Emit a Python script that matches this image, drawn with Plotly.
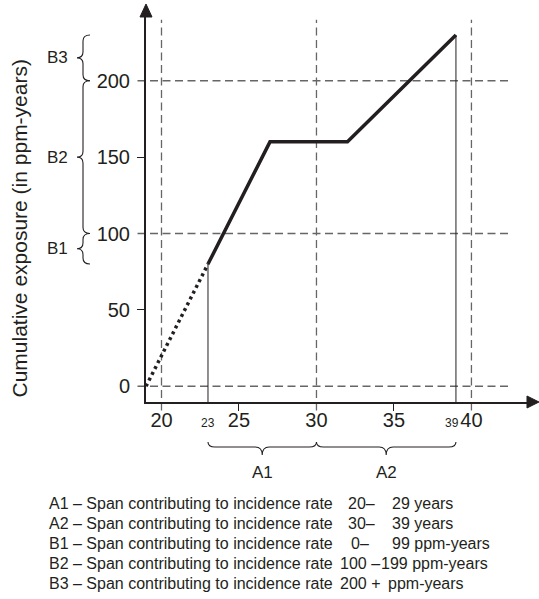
import plotly.graph_objects as go

# ---------------- data ----------------
age_extrapolated = [19, 23]
exposure_extrapolated = [0, 80]
age_observed = [23, 27, 32, 39]
exposure_observed = [80, 160, 160, 230]

x_tick_values = [20, 25, 30, 35, 40]
x_tick_labels = ["20", "25", "30", "35", "40"]
y_tick_values = [0, 50, 100, 150, 200]
y_tick_labels = ["0", "50", "100", "150", "200"]
x_reference_lines = [20, 30, 40]
y_reference_lines = [0, 100, 200]
x_small_labels = [23, 39]

age_span_labels = ["A1", "A2"]
age_span_bounds = [(23, 30), (30, 39)]
exposure_span_labels = ["B1", "B2", "B3"]
exposure_span_bounds = [(80, 100), (100, 200), (200, 230)]

legend_codes = ["A1", "A2", "B1", "B2", "B3"]
legend_lower = ["20\u2013", "30\u2013", "0\u2013", "100 \u2013", "200 +"]
legend_upper = ["29 years", "39 years", "99 ppm-years", "199 ppm-years", "ppm-years"]
legend_phrase = "Span contributing to incidence rate"
y_title = "Cumulative exposure (in ppm-years)"

# ---------------- geometry / style ----------------
W, H = 539, 599
L, R, T, B = 146, 11, 16, 197
PW, PH = W - L - R, H - T - B
X_RANGE = [19, 43.65]
Y_RANGE = [-10.3, 242.4]
INK = "#231f20"
GRID = "#666666"
FONT = "Liberation Sans, Arial, Helvetica, sans-serif"


def px_x(v):
    return L + (v - X_RANGE[0]) / (X_RANGE[1] - X_RANGE[0]) * PW


def px_y(v):
    return T + (Y_RANGE[1] - v) / (Y_RANGE[1] - Y_RANGE[0]) * PH


def paper_x(px):
    return (px - L) / PW


def paper_y(py):
    return (T + PH - py) / PH


def path_from_px(points):
    out = []
    for cmd, pts in points:
        out.append(cmd + " ".join(f"{paper_x(a):.5f},{paper_y(b):.5f}" for a, b in pts))
    return " ".join(out)


fig = go.Figure()

# dotted extrapolation
fig.add_trace(go.Scatter(
    x=age_extrapolated, y=exposure_extrapolated, mode="lines",
    line=dict(color=INK, width=3.5, dash="3px,3.5px"), hoverinfo="skip",
    showlegend=False, cliponaxis=False))
# solid observed line
fig.add_trace(go.Scatter(
    x=age_observed, y=exposure_observed, mode="lines",
    line=dict(color=INK, width=3.5), hoverinfo="skip", showlegend=False))
# thin drop lines at start and end of observation
for xv, yv in [(age_observed[0], exposure_observed[0]), (age_observed[-1], exposure_observed[-1])]:
    fig.add_trace(go.Scatter(
        x=[xv, xv], y=[Y_RANGE[0], yv], mode="lines",
        line=dict(color=INK, width=1), hoverinfo="skip", showlegend=False))

shapes = []
# dashed reference lines
for xv in x_reference_lines:
    shapes.append(dict(type="line", xref="x", yref="paper",
                       x0=xv, x1=xv, y0=paper_y(px_y(Y_RANGE[0]) + 8.5), y1=paper_y(px_y(240)),
                       line=dict(color=GRID, width=1.3, dash="8px,4.5px"), layer="below"))
for yv in y_reference_lines:
    shapes.append(dict(type="line", xref="paper", yref="y",
                       x0=paper_x(px_x(X_RANGE[0]) - 8.5), x1=paper_x(px_x(42.5)), y0=yv, y1=yv,
                       line=dict(color=GRID, width=1.3, dash="8px,4.5px"), layer="below"))

# axis arrowheads
ax_x0, ax_y0 = px_x(X_RANGE[0]), px_y(Y_RANGE[0])
shapes.append(dict(type="path", xref="paper", yref="paper",
                   path=path_from_px([("M", [(ax_x0, T - 12)]), ("L", [(ax_x0 - 6, T + 1)]),
                                      ("L", [(ax_x0 + 6, T + 1)])]) + " Z",
                   fillcolor=INK, line=dict(color=INK, width=1)))
xr = L + PW
shapes.append(dict(type="path", xref="paper", yref="paper",
                   path=path_from_px([("M", [(xr + 11, ax_y0)]), ("L", [(xr - 1, ax_y0 - 6)]),
                                      ("L", [(xr - 1, ax_y0 + 6)])]) + " Z",
                   fillcolor=INK, line=dict(color=INK, width=1)))

# vertical braces (exposure spans)
BR_X, BR_END, BR_TIP, BR_R = 83, 90, 77, 6
for (lo, hi) in exposure_span_bounds:
    yt, yb = px_y(hi), px_y(lo)
    ym = (yt + yb) / 2
    r = min(BR_R, (yb - yt) / 4)
    p = path_from_px([
        ("M", [(BR_END, yt)]),
        ("Q", [(BR_X, yt), (BR_X, yt + r)]),
        ("L", [(BR_X, ym - r)]),
        ("Q", [(BR_X, ym), (BR_TIP, ym)]),
        ("Q", [(BR_X, ym), (BR_X, ym + r)]),
        ("L", [(BR_X, yb - r)]),
        ("Q", [(BR_X, yb), (BR_END, yb)]),
    ])
    shapes.append(dict(type="path", xref="paper", yref="paper", path=p,
                       line=dict(color=INK, width=1.1)))

# horizontal braces (age spans)
HB_END, HB_Y, HB_TIP, HB_R = 442, 447, 455, 7
for (lo, hi) in age_span_bounds:
    xl, xh = px_x(lo), px_x(hi)
    xm = (xl + xh) / 2
    p = path_from_px([
        ("M", [(xl, HB_END)]),
        ("Q", [(xl, HB_Y), (xl + HB_R, HB_Y)]),
        ("L", [(xm - HB_R, HB_Y)]),
        ("Q", [(xm, HB_Y), (xm, HB_TIP)]),
        ("Q", [(xm, HB_Y), (xm + HB_R, HB_Y)]),
        ("L", [(xh - HB_R, HB_Y)]),
        ("Q", [(xh, HB_Y), (xh, HB_END)]),
    ])
    shapes.append(dict(type="path", xref="paper", yref="paper", path=p,
                       line=dict(color=INK, width=1.1)))

annotations = []
# y title
annotations.append(dict(text=y_title, xref="paper", yref="paper",
                        x=paper_x(19), y=paper_y(228.5), textangle=-90,
                        showarrow=False, font=dict(family=FONT, size=21, color=INK),
                        xanchor="center", yanchor="middle"))
# small x labels
for xv in x_small_labels:
    annotations.append(dict(text=str(xv), xref="x", yref="paper", x=xv, y=paper_y(423),
                            xshift=-4 if xv == x_small_labels[-1] else 0,
                            showarrow=False, font=dict(family=FONT, size=12, color=INK),
                            xanchor="center", yanchor="middle"))
# brace labels
for lab, (lo, hi) in zip(exposure_span_labels, exposure_span_bounds):
    annotations.append(dict(text=lab, xref="paper", yref="y", x=paper_x(BR_TIP - 7),
                            y=(lo + hi) / 2, showarrow=False,
                            font=dict(family=FONT, size=17, color=INK),
                            xanchor="right", yanchor="middle"))
for lab, (lo, hi) in zip(age_span_labels, age_span_bounds):
    annotations.append(dict(text=lab, xref="x", yref="paper", x=(lo + hi) / 2,
                            y=paper_y(472), showarrow=False,
                            font=dict(family=FONT, size=17, color=INK),
                            xanchor="center", yanchor="middle"))
# explanatory legend rows
lower_right = [377, 377, 371, 382, 382]
upper_left = [390, 390, 390, 379, 386]
for i, code in enumerate(legend_codes):
    yy = paper_y(503 + 20 * i)
    annotations.append(dict(text=f"{code} \u2013 {legend_phrase}", xref="paper", yref="paper",
                            x=paper_x(47), y=yy, showarrow=False,
                            font=dict(family=FONT, size=16, color=INK),
                            xanchor="left", yanchor="middle"))
    annotations.append(dict(text=legend_lower[i], xref="paper", yref="paper",
                            x=paper_x(lower_right[i]), y=yy, showarrow=False,
                            font=dict(family=FONT, size=16, color=INK),
                            xanchor="right", yanchor="middle"))
    annotations.append(dict(text=legend_upper[i], xref="paper", yref="paper",
                            x=paper_x(upper_left[i]), y=yy, showarrow=False,
                            font=dict(family=FONT, size=16, color=INK),
                            xanchor="left", yanchor="middle"))

fig.update_layout(
    width=W, height=H, autosize=False,
    margin=dict(l=L, r=R, t=T, b=B, pad=0),
    paper_bgcolor="white", plot_bgcolor="white",
    showlegend=False,
    shapes=shapes, annotations=annotations,
    font=dict(family=FONT, color=INK),
    xaxis=dict(range=X_RANGE, tickvals=x_tick_values, ticktext=x_tick_labels,
               ticks="", showline=True, linewidth=2, linecolor=INK, showgrid=False,
               zeroline=False, tickfont=dict(size=20, color=INK), ticklabelstandoff=-1,
               minor=dict(ticks="outside", tick0=25, dtick=10, ticklen=7, tickwidth=1.3,
                          tickcolor=INK, showgrid=False),
               fixedrange=True),
    yaxis=dict(range=Y_RANGE, tickvals=y_tick_values, ticktext=y_tick_labels,
               ticks="", showline=True, linewidth=2, linecolor=INK, showgrid=False,
               zeroline=False, tickfont=dict(size=20, color=INK), ticklabelstandoff=10,
               minor=dict(ticks="outside", tick0=50, dtick=100, ticklen=7, tickwidth=1.3,
                          tickcolor=INK, showgrid=False),
               fixedrange=True),
)

fig.write_html("out.html", config={"displayModeBar": False})
